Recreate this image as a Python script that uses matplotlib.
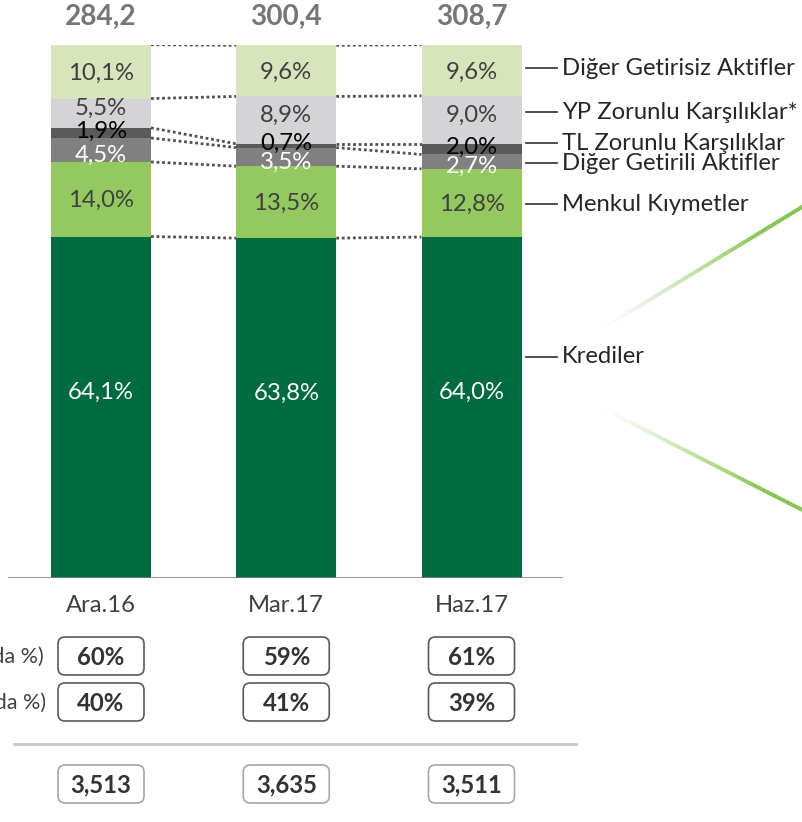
import matplotlib
matplotlib.use('Agg')
import matplotlib.pyplot as plt
import numpy as np
from matplotlib.patches import FancyBboxPatch
from matplotlib.collections import LineCollection
from matplotlib.colors import to_rgba

# data
periods = ['Ara.16', 'Mar.17', 'Haz.17']
totals = ['284,2', '300,4', '308,7']
series = ['Krediler', 'Menkul Kıymetler', 'Diğer Getirili Aktifler',
          'TL Zorunlu Karşılıklar', 'YP Zorunlu Karşılıklar*', 'Diğer Getirisiz Aktifler']
krediler = [64.1, 63.8, 64.0]
menkul = [14.0, 13.5, 12.8]
diger_getirili = [4.5, 3.5, 2.7]
tl_zorunlu = [1.9, 0.7, 2.0]
yp_zorunlu = [5.5, 8.9, 9.0]
diger_getirisiz = [10.1, 9.6, 9.6]
tl_share = ['60%', '59%', '61%']
yp_share = ['40%', '41%', '39%']
bottom_row = ['3,513', '3,635', '3,511']
row_labels = ['TL Aktifler (Toplamda %)', 'YP Aktifler (Toplamda %)']

values = [krediler, menkul, diger_getirili, tl_zorunlu, yp_zorunlu, diger_getirisiz]
colors = ['#006A41', '#93C95F', '#808080', '#5A5A5A', '#D4D4D6', '#D8E4BC']
label_colors = ['white', '#404040', 'white', 'black', '#404040', '#404040']
label_shift = [-15, 1, 5, -2, -5, 2]          # px, positive = down
legend_y = [41.5, 70.2, 77.9, 81.6, 87.4, 95.7]  # where the legend text sits (in %)

plt.rcParams['font.family'] = ['Lato', 'DejaVu Sans']
FS = 17.2

W, H = 802, 822
fig = plt.figure(figsize=(W / 100, H / 100), dpi=100)

# pixel overlay for the table part and decoration
ov = fig.add_axes([0, 0, 1, 1])
ov.set_xlim(0, W)
ov.set_ylim(H, 0)
ov.axis('off')

x0px, step = 101, 185.25
ax = fig.add_axes([8 / W, (H - 578) / H, (563 - 8) / W, 533 / H])
ax.patch.set_alpha(0)
ax.set_xlim((8 - x0px) / step, (563 - x0px) / step)
ax.set_ylim(0, 100.05)
ax.axis('off')

x = np.arange(len(periods))
w = 100 / step
bottom = np.zeros(len(periods))
levels = []
for vals, col, lc, sh in zip(values, colors, label_colors, label_shift):
    vals = np.array(vals)
    ax.bar(x, vals, w, bottom=bottom, color=col, edgecolor='none', zorder=2)
    for xi, v, b in zip(x, vals, bottom):
        ax.annotate(f'{v:.1f}'.replace('.', ',') + '%', (xi, b + v / 2),
                    xytext=(0, -sh * 0.72), textcoords='offset points',
                    ha='center', va='center', color=lc, fontsize=FS, zorder=4)
    bottom = bottom + vals
    levels.append(bottom.copy())

ax.axhline(0, color='#808080', lw=1.2, zorder=3)

# dotted connectors between bars
for lev in levels:
    for i in range(len(x) - 1):
        ax.plot([x[i] + w / 2, x[i + 1] - w / 2], [lev[i], lev[i + 1]],
                color='#505050', lw=2.0, linestyle=(0, (1, 1)), zorder=1)

# totals and period labels
for xi, t, p in zip(x, totals, periods):
    ax.annotate(t, (xi, 100), xytext=(0, 28 * 0.72), textcoords='offset points',
                ha='center', va='center', fontsize=20.2, fontweight='bold',
                color='#767676', annotation_clip=False)
    ax.annotate(p, (xi, 0), xytext=(0, -27 * 0.72), textcoords='offset points',
                ha='center', va='center', fontsize=FS, color='#404040',
                annotation_clip=False)

# legend with leader lines
lx0, lx1, tx = (526 - x0px) / step, (557 - x0px) / step, (562 - x0px) / step
for name, yv in zip(series, legend_y):
    ax.plot([lx0, lx1], [yv, yv], color='#404040', lw=1.3, clip_on=False)
    ax.text(tx, yv, name, ha='left', va='center', fontsize=FS, color='#262626',
            clip_on=False)

# boxes below the chart
rows = [(tl_share, 637, '#595959'), (yp_share, 683, '#595959'), (bottom_row, 765, '#A6A6A6')]
for texts, top, ec in rows:
    for i, t in enumerate(texts):
        cx = x0px + i * step
        ov.add_patch(FancyBboxPatch((cx - 43, top), 86, 38,
                                    boxstyle='round,pad=0,rounding_size=7',
                                    fc='white', ec=ec, lw=1.2))
        ov.text(cx, top + 20, t, ha='center', va='center', fontsize=FS,
                fontweight='bold', color='#333333')

ov.text(44, 657, row_labels[0], ha='right', va='center', fontsize=15.5, color='#404040')
ov.text(46, 703, row_labels[1], ha='right', va='center', fontsize=15.5, color='#404040')
ov.plot([14, 576], [744, 744], color='#C8C8C8', lw=2)

# green decorative streaks
for (xa, ya), (xb, yb) in [((600, 330), (830, 190)), ((600, 407), (830, 524))]:
    n = 120
    px = np.linspace(xa, xb, n + 1)
    py = np.linspace(ya, yb, n + 1)
    segs = np.stack([np.column_stack([px[:-1], py[:-1]]), np.column_stack([px[1:], py[1:]])], axis=1)
    base = np.array(to_rgba('#7DC242'))
    cols = np.tile(base, (n, 1))
    cols[:, 3] = np.clip(np.linspace(0, 1.4, n), 0, 1) ** 1.3
    ov.add_collection(LineCollection(segs, colors=cols, linewidths=2.8))

fig.savefig('out.png', dpi=100)
